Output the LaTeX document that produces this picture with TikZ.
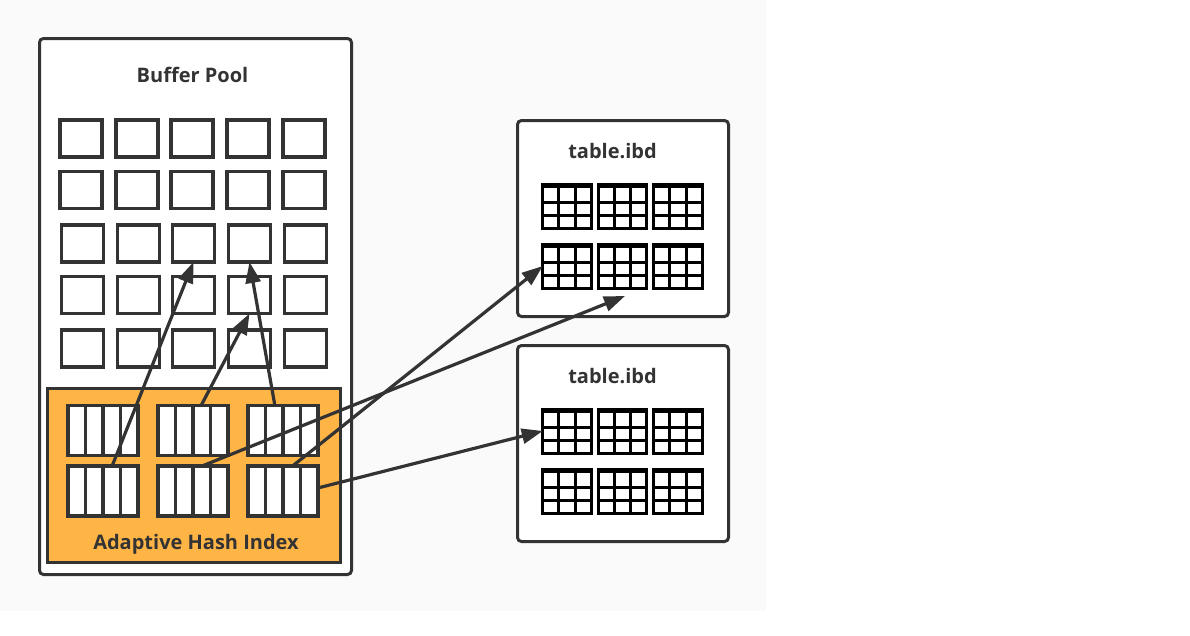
\documentclass[tikz,border=0pt]{standalone}
\usepackage{fontspec}
\setmainfont{Open Sans}
\usetikzlibrary{positioning, arrows.meta, calc}
\definecolor{inkgray}{HTML}{333333}
\definecolor{hashorange}{HTML}{FFB546}
\definecolor{pagebg}{HTML}{FAFAFA}
\tikzset{
  panel/.style={draw=inkgray, fill=white, line width=3pt, rounded corners=4pt, inner sep=0pt, outer sep=0pt},
  pagecell/.style={draw=inkgray, fill=white, line width=3.2pt, minimum width=42pt, minimum height=37pt, inner sep=0pt, outer sep=0pt},
  title/.style={text=inkgray, font=\fontsize{20}{24}\selectfont\bfseries, inner sep=0pt, anchor=base},
  pointer/.style={draw=inkgray, line width=3.2pt, ->},
  hashcell/.style={draw=inkgray, fill=white, line width=3.5pt, minimum width=70pt, minimum height=50pt, inner sep=0pt, outer sep=0pt,
    path picture={
      \foreach \f in {0.25, 0.5, 0.75}
        \draw[inkgray, line width=3.5pt] ($(path picture bounding box.south west)!\f!(path picture bounding box.south east)$)
          -- ($(path picture bounding box.north west)!\f!(path picture bounding box.north east)$);
    }},
  tablegrid/.style={draw=black, fill=white, line width=3pt, minimum width=48.5pt, minimum height=44pt, inner sep=0pt, outer sep=0pt,
    path picture={
      \foreach \f in {0.33, 0.67}
        \draw[black, line width=3pt] ($(path picture bounding box.south west)!\f!(path picture bounding box.south east)$)
          -- ($(path picture bounding box.north west)!\f!(path picture bounding box.north east)$);
      \foreach \f in {0.42, 0.71}
        \draw[black, line width=3pt] ($(path picture bounding box.north west)!\f!(path picture bounding box.south west)$)
          -- ($(path picture bounding box.north east)!\f!(path picture bounding box.south east)$);
      \draw[black, line width=8pt] (path picture bounding box.north west) -- (path picture bounding box.north east);
    }}
}
\begin{document}
\begin{tikzpicture}[x=1pt, y=-1pt, on grid, >={Stealth[length=21pt, width=15pt, inset=0pt]}]
  \useasboundingbox (0,0) rectangle (1190,635);
  \fill[pagebg] (0,0) rectangle (766,611);
  % buffer pool
  \node[panel, minimum width=312pt, minimum height=536pt] (pool) at (195.5,306.5) {};
  \node[title] (pooltitle) at (192.5,82) {Buffer Pool};
  \foreach \r/\y/\dx in {1/138.5/0, 2/190/0, 3/243.5/1.5, 4/295/1.5, 5/348.5/1.5}
    \foreach \c/\x in {1/81, 2/137, 3/192, 4/248, 5/304}
      \node[pagecell] (p\r\c) at (\x+\dx,\y) {};
  % hash index
  \node[draw=inkgray, fill=hashorange, line width=3pt, minimum width=293pt, minimum height=174pt, inner sep=0pt, outer sep=0pt] (ahi) at (194,475.5) {};
  \node[hashcell] (h11) at (103,430.5) {};
  \node[hashcell, right=90pt of h11] (h12) {};
  \node[hashcell, right=90pt of h12] (h13) {};
  \node[hashcell, below=60.5pt of h11] (h21) {};
  \node[hashcell, right=90pt of h21] (h22) {};
  \node[hashcell, right=90pt of h22] (h23) {};
  \node[title] (ahititle) at (196,549) {Adaptive Hash Index};
  % first file
  \node[panel, minimum width=211pt, minimum height=196pt] (file1) at (623,218.5) {};
  \node[title] (file1title) at (612.5,158) {table.ibd};
  \node[tablegrid] (a11) at (567,206) {};
  \node[tablegrid, right=55.5pt of a11] (a12) {};
  \node[tablegrid, right=55.5pt of a12] (a13) {};
  \node[tablegrid, below=60pt of a11] (a21) {};
  \node[tablegrid, right=55.5pt of a21] (a22) {};
  \node[tablegrid, right=55.5pt of a22] (a23) {};
  % second file
  \node[panel, minimum width=211pt, minimum height=196pt] (file2) at (623,443.5) {};
  \node[title] (file2title) at (612.5,383) {table.ibd};
  \node[tablegrid] (b11) at (567,431) {};
  \node[tablegrid, right=55.5pt of b11] (b12) {};
  \node[tablegrid, right=55.5pt of b12] (b13) {};
  \node[tablegrid, below=60pt of b11] (b21) {};
  \node[tablegrid, right=55.5pt of b21] (b22) {};
  \node[tablegrid, right=55.5pt of b22] (b23) {};
  % pointers
  \coordinate (belowa22) at (625,296);
  \draw[pointer] (h21.70) -- (p33.south);
  \draw[pointer] (h12.72) -- (p44.south);
  \draw[pointer] (h13.108) -- (p34.south);
  \draw[pointer] (h22.70) -- (belowa22);
  \draw[pointer] (h23.69) -- (a21.west);
  \draw[pointer] (h23.5) -- (b11.west);
\end{tikzpicture}
\end{document}
